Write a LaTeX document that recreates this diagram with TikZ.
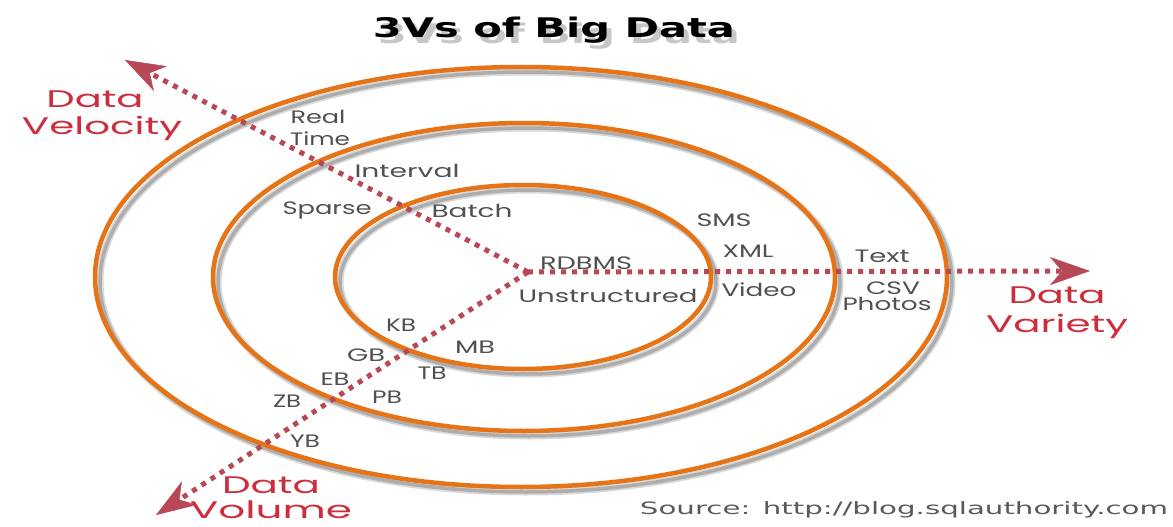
\documentclass[tikz,border=0pt]{standalone}
\usepackage{fontspec}
\usepackage{graphicx}
\usetikzlibrary{arrows.meta,shapes.geometric}
\newfontfamily\labfont{Poppins}
\newfontfamily\headfont{DejaVu Sans}
\definecolor{ringc}{RGB}{230,116,22}
\definecolor{axisred}{RGB}{184,72,86}
\definecolor{labgray}{RGB}{80,80,80}
\definecolor{vred}{RGB}{205,45,60}
\newcommand{\fitw}[2]{\resizebox{#1pt}{\height}{#2}}
\begin{document}
\begin{tikzpicture}[x=1pt,y=-1pt,
  ring/.style={draw=ringc, line width=4.5pt, ellipse, inner sep=0pt},
  ringshadowA/.style={draw=black!15, line width=7pt},
  ringshadowB/.style={draw=black!32, line width=3.5pt},
  axis/.style={draw=axisred, line width=5pt, dash pattern=on 5pt off 6pt,
    -{Stealth[length=40pt,width=28pt,inset=12pt,fill=axisred,line width=0.5pt]}},
  lab/.style={text=labgray, font=\labfont\fontsize{18}{18}\selectfont,
    inner sep=0pt, text height=13pt, text depth=0pt},
  axlab/.style={text=vred, font=\labfont\fontsize{24}{24}\selectfont,
    inner sep=0pt, text height=17pt, text depth=0pt},
  ttl/.style={font=\headfont\bfseries\fontsize{27}{27}\selectfont,
    inner sep=0pt, text height=20pt, text depth=0pt},
]
\useasboundingbox (0,0) rectangle (1173,527);
\fill[white] (0,0) rectangle (1173,527);

% title with shadow
\node[ttl, text=black!22] (titlesh) at (559,34) {\fitw{362}{3Vs of Big Data}};
\node[ttl, text=black] (title) at (554,28) {\fitw{362}{3Vs of Big Data}};

% ring shadows
\draw[ringshadowA] (526,282) ellipse [x radius=426, y radius=210];
\draw[ringshadowA] (529,282) ellipse [x radius=311, y radius=154];
\draw[ringshadowA] (528,282) ellipse [x radius=188, y radius=92];
\draw[ringshadowB] (526,282) ellipse [x radius=426, y radius=210];
\draw[ringshadowB] (529,282) ellipse [x radius=311, y radius=154];
\draw[ringshadowB] (528,282) ellipse [x radius=188, y radius=92];

% rings
\node[ring, minimum width=852pt, minimum height=420pt] (outer) at (521,277) {};
\node[ring, minimum width=622pt, minimum height=308pt] (middle) at (524,277) {};
\node[ring, minimum width=376pt, minimum height=184pt] (inner) at (523,277) {};

% axes
\coordinate (O) at (528,272);
\coordinate (vel) at (125,60);
\coordinate (var) at (1090,271);
\coordinate (vol) at (156,515);
\draw[axis] (O) -- (vel);
\draw[axis] (O) -- (var);
\draw[axis] (O) -- (vol);

% axis labels
\node[axlab] (velD) at (95,99) {\fitw{97}{Data}};
\node[axlab] (velV) at (102,126) {\fitw{160}{Velocity}};
\node[axlab] (varD) at (1057,295) {\fitw{97}{Data}};
\node[axlab] (varV) at (1057,324) {\fitw{142}{Variety}};
\node[axlab] (volD) at (271,485) {\fitw{98}{Data}};
\node[axlab] (volV) at (271,510) {\fitw{162}{Volume}};

% velocity labels
\node[lab] (real) at (318,117) {\fitw{55}{Real}};
\node[lab] (time) at (320,139) {\fitw{60}{Time}};
\node[lab] (interval) at (407,171) {\fitw{105}{Interval}};
\node[lab] (sparse) at (327,208) {\fitw{89}{Sparse}};
\node[lab] (batch) at (472,211) {\fitw{81}{Batch}};

% variety labels
\node[lab] (sms) at (724,220) {\fitw{55}{SMS}};
\node[lab] (xml) at (748,251) {\fitw{51}{XML}};
\node[lab] (rdbms) at (586,263) {\fitw{92}{RDBMS}};
\node[lab] (unstr) at (608,296) {\fitw{179}{Unstructured}};
\node[lab] (video) at (759,290) {\fitw{75}{Video}};
\node[lab] (text) at (882,256) {\fitw{55}{Text}};
\node[lab] (csv) at (893,288) {\fitw{54}{CSV}};
\node[lab] (photos) at (887,304) {\fitw{89}{Photos}};

% volume labels
\node[lab] (kb) at (401,325) {\fitw{30}{KB}};
\node[lab] (mb) at (475,347) {\fitw{40}{MB}};
\node[lab] (gb) at (366,355) {\fitw{38}{GB}};
\node[lab] (tb) at (432,373) {\fitw{29}{TB}};
\node[lab] (eb) at (335,379) {\fitw{29}{EB}};
\node[lab] (pb) at (387,397) {\fitw{30}{PB}};
\node[lab] (zb) at (287,401) {\fitw{28}{ZB}};
\node[lab] (yb) at (305,441) {\fitw{30}{YB}};

% source
\node[font=\headfont\fontsize{17}{17}\selectfont, text=black!65, inner sep=0pt,
  text height=12.5pt, text depth=0pt] (src) at (904,508)
  {\fitw{528}{Source: http://blog.sqlauthority.com}};
\end{tikzpicture}
\end{document}
